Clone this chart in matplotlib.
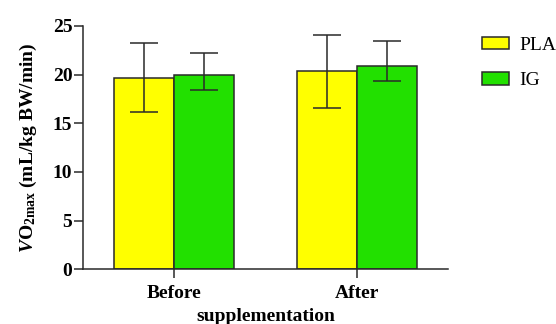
import numpy as np
import matplotlib
matplotlib.use("Agg")
import matplotlib.pyplot as plt

plt.rcParams['font.family'] = 'Liberation Serif'
plt.rcParams['mathtext.fontset'] = 'custom'
plt.rcParams['mathtext.rm'] = 'Liberation Serif:bold'
plt.rcParams['mathtext.it'] = 'Liberation Serif:italic:bold'
plt.rcParams['mathtext.bf'] = 'Liberation Serif:bold'

categories = ["Before", "After"]
groups = ["PLA", "IG"]
pla_mean = [19.7, 20.35]
pla_err_lo = [3.5, 3.75]
pla_err_hi = [3.5, 3.75]
ig_mean = [19.95, 20.85]
ig_err_lo = [1.5, 1.55]
ig_err_hi = [2.25, 2.6]
yticks = [0, 5, 10, 15, 20, 25]

colors = ["#ffff00", "#22e000"]
edge = "#2a2a2a"
fs = 14

fig = plt.figure(figsize=(5.56, 3.24), dpi=100)
ax = fig.add_axes([0.149, 0.169, 0.657, 0.751])

x = np.arange(len(categories))
w = 0.33
ax.bar(x - w/2, pla_mean, w, color=colors[0], edgecolor=edge, linewidth=1.1,
       label=groups[0], zorder=2)
ax.bar(x + w/2, ig_mean, w, color=colors[1], edgecolor=edge, linewidth=1.1,
       label=groups[1], zorder=2)
ax.errorbar(x - w/2, pla_mean, yerr=[pla_err_lo, pla_err_hi], fmt='none',
            ecolor=edge, elinewidth=1.1, capsize=10, capthick=1.1, zorder=3)
ax.errorbar(x + w/2, ig_mean, yerr=[ig_err_lo, ig_err_hi], fmt='none',
            ecolor=edge, elinewidth=1.1, capsize=10, capthick=1.1, zorder=3)

ax.set_xlim(-0.5, 1.5)
ax.set_ylim(0, 25)
ax.set_yticks(yticks)
ax.set_xticks(x)
ax.set_xticklabels(categories, fontsize=fs, fontweight='bold')
for lbl in ax.get_yticklabels():
    lbl.set_fontsize(fs)
    lbl.set_fontweight('bold')

for s in ['top', 'right']:
    ax.spines[s].set_visible(False)
for s in ['left', 'bottom']:
    ax.spines[s].set_linewidth(1.1)
    ax.spines[s].set_color(edge)
ax.tick_params(axis='y', direction='out', length=6.5, width=1.1, color=edge, pad=1)
ax.tick_params(axis='x', direction='out', length=6.5, width=1.1, color=edge, pad=4.5)

ax.set_ylabel(r"$\it{V}$O$_{\rm 2max}$ (mL/kg BW/min)", fontsize=fs,
              fontweight='bold', labelpad=10)
ax.set_xlabel("supplementation", fontsize=fs, fontweight='bold', labelpad=5)

ax.legend(loc='upper left', bbox_to_anchor=(1.094, 0.955), frameon=False,
          fontsize=fs, handlelength=1.34, handleheight=0.6,
          labelspacing=0.95, handletextpad=0.55, borderpad=0, borderaxespad=0)

fig.savefig("out.png", dpi=100)
